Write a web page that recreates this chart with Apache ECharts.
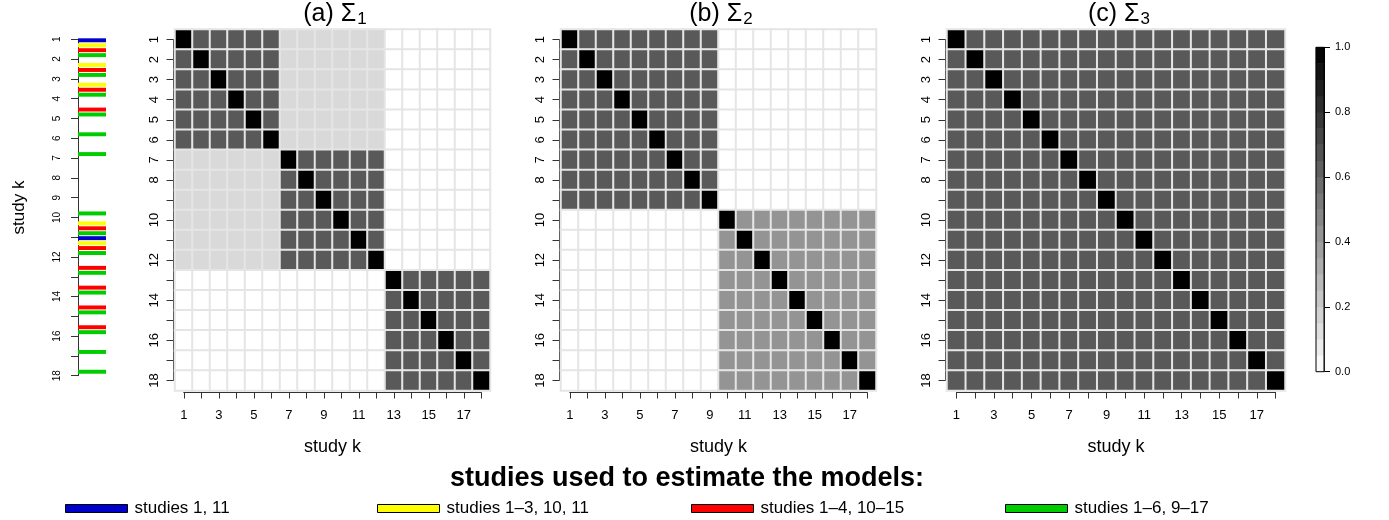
<!DOCTYPE html>
<html><head><meta charset="utf-8">
<script src="https://cdn.jsdelivr.net/npm/echarts@6/dist/echarts.min.js"></script>
<style>html,body{margin:0;padding:0;background:#fff}#c{width:1389px;height:520px}</style>
</head><body><div id="c"></div>
<script>
// ---------- DATA ----------
const studies = ['1','2','3','4','5','6','7','8','9','10','11','12','13','14','15','16','17','18'];
// block membership of each study (panel a, b, c)
const groupsA = [1,1,1,1,1,1,2,2,2,2,2,2,3,3,3,3,3,3];
const groupsB = [1,1,1,1,1,1,1,1,1,2,2,2,2,2,2,2,2,2];
const groupsC = [1,1,1,1,1,1,1,1,1,1,1,1,1,1,1,1,1,1];
// correlation between blocks (row = block i, col = block j), diagonal of matrix = 1
const blockCorA = [[0.65,0.15,0.00],[0.15,0.65,0.00],[0.00,0.00,0.65]];
const blockCorB = [[0.65,0.00],[0.00,0.42]];
const blockCorC = [[0.65]];
const panelTitles = ['(a) Σ', '(b) Σ', '(c) Σ'];
const panelSubs = ['1', '2', '3'];
// studies used to estimate each model
const modelNames = ['studies 1, 11', 'studies 1\u20133, 10, 11', 'studies 1\u20134, 10\u201315', 'studies 1\u20136, 9\u201317'];
const modelColors = ['#0000CD', '#FFFF00', '#FF0000', '#00CD00'];
const modelBlue = [1, 11];
const modelYellow = [1, 2, 3, 10, 11];
const modelRed = [1, 2, 3, 4, 10, 11, 12, 13, 14, 15];
const modelGreen = [1, 2, 3, 4, 5, 6, 9, 10, 11, 12, 13, 14, 15, 16, 17];
const models = [modelBlue, modelYellow, modelRed, modelGreen];
const colorbarSteps = 20;

// ---------- BUILD ----------
function buildMatrix(groups, cor) {
  const out = [];
  for (let i = 0; i < groups.length; i++) {
    for (let j = 0; j < groups.length; j++) {
      const v = i === j ? 1 : cor[groups[i]-1][groups[j]-1];
      out.push([j, i, v]);
    }
  }
  return out;
}
const matrices = [buildMatrix(groupsA, blockCorA), buildMatrix(groupsB, blockCorB), buildMatrix(groupsC, blockCorC)];

const FONT = 'Liberation Sans';
const panels = [
  {left: 175, width: 315, cx: 330},
  {left: 561, width: 315, cx: 716},
  {left: 947, width: 338, cx: 1114}
];
const TOP = 29.5, HEIGHT = 361, CH = HEIGHT / 18;

const grids = [], xAxes = [], yAxes = [], series = [], titles = [];

// strip grid (index 0)
grids.push({left: 78, width: 28, top: 39.3, height: 336.4});
xAxes.push({gridIndex: 0, type: 'value', min: 0, max: 1, show: false});
yAxes.push({gridIndex: 0, type: 'value', min: 1, max: 18, interval: 1, inverse: true,
  axisLine: {show: true, lineStyle: {color: '#333', width: 1}},
  axisTick: {show: true, length: 7, lineStyle: {color: '#333'}},
  splitLine: {show: false},
  axisLabel: {rotate: 90, fontSize: 10, color: '#000', fontFamily: FONT, margin: 16,
    formatter: v => (v <= 10 || v % 2 === 0) ? String(v) : ''},
  name: 'study k', nameLocation: 'middle', nameGap: 50, nameRotate: 90,
  nameTextStyle: {fontSize: 17, color: '#000', fontFamily: FONT}});

panels.forEach((p, k) => {
  const cw = p.width / 18;
  const gCell = grids.length;
  grids.push({left: p.left, width: p.width, top: TOP, height: HEIGHT});
  xAxes.push({gridIndex: gCell, type: 'category', data: studies, show: false});
  yAxes.push({gridIndex: gCell, type: 'category', data: studies, inverse: true, show: false});
  const cellAxis = xAxes.length - 1;
  const gAx = grids.length;
  grids.push({left: p.left + cw / 2, width: p.width - cw, top: TOP + CH / 2, height: HEIGHT - CH});
  xAxes.push({gridIndex: gAx, type: 'value', min: 1, max: 18, interval: 1, position: 'bottom', offset: CH / 2 + 2,
    axisLine: {show: true, lineStyle: {color: '#333'}},
    axisTick: {show: true, length: 6, lineStyle: {color: '#333'}},
    splitLine: {show: false},
    axisLabel: {fontSize: 13, color: '#000', fontFamily: FONT, margin: 16,
      formatter: v => (v % 2 === 1) ? String(v) : ''},
    name: 'study k', nameLocation: 'middle', nameGap: 46,
    nameTextStyle: {fontSize: 18, color: '#000', fontFamily: FONT}});
  yAxes.push({gridIndex: gAx, type: 'value', min: 1, max: 18, interval: 1, inverse: true, position: 'left', offset: cw / 2 + 1.5,
    axisLine: {show: true, lineStyle: {color: '#333'}},
    axisTick: {show: true, length: 7, lineStyle: {color: '#333'}},
    splitLine: {show: false},
    axisLabel: {rotate: 90, fontSize: 13, color: '#000', fontFamily: FONT, margin: 13,
      formatter: v => (v <= 8 || v % 2 === 0) ? String(v) : ''}});
  series.push({type: 'heatmap', xAxisIndex: cellAxis, yAxisIndex: cellAxis, data: matrices[k],
    itemStyle: {borderColor: '#e5e5e5', borderWidth: 2}, emphasis: {disabled: true}, silent: true});
  titles.push({text: panelTitles[k] + '{sub|' + panelSubs[k] + '}', left: p.cx, textAlign: 'center', top: -4,
    textStyle: {fontSize: 25, fontWeight: 'normal', color: '#000', fontFamily: FONT,
      rich: {sub: {fontSize: 17, color: '#000', fontFamily: FONT, padding: [10, 0, 0, 1]}}}});
});

// colorbar grid
const gBar = grids.length;
grids.push({left: 1316, width: 8, top: 47.3, height: 324.4, show: true, borderColor: '#000', borderWidth: 1, backgroundColor: 'transparent', z: 10});
const barCats = [];
const barData = [];
for (let i = 0; i < colorbarSteps; i++) { barCats.push(String(i)); barData.push([0, i, (i + 0.5) / colorbarSteps]); }
xAxes.push({gridIndex: gBar, type: 'category', data: ['c'], show: false});
yAxes.push({gridIndex: gBar, type: 'category', data: barCats, show: false});
const barCatIdx = yAxes.length - 1;
yAxes.push({gridIndex: gBar, type: 'value', min: 0, max: 1, interval: 0.2, position: 'right',
  axisLine: {show: true, lineStyle: {color: '#000'}},
  axisTick: {show: true, length: 6, lineStyle: {color: '#000'}},
  splitLine: {show: false},
  axisLabel: {fontSize: 11, color: '#000', fontFamily: FONT, margin: 11, formatter: v => v.toFixed(1)}});
series.push({type: 'heatmap', xAxisIndex: xAxes.length - 1, yAxisIndex: barCatIdx, data: barData,
  itemStyle: {borderWidth: 0}, emphasis: {disabled: true}, silent: true});

// strip bars
const offsets = [0.05, 0.30, 0.55, 0.80];
models.forEach((m, j) => {
  series.push({type: 'custom', name: modelNames[j], xAxisIndex: 0, yAxisIndex: 0,
    data: m.map(s => [0, s]), encode: {x: 0, y: 1}, itemStyle: {color: modelColors[j]}, silent: true,
    renderItem: function (params, api) {
      const y = api.value(1) + offsets[j];
      const p0 = api.coord([0, y - 0.1]);
      const p1 = api.coord([1, y + 0.1]);
      return {type: 'rect', shape: {x: p0[0], y: Math.min(p0[1], p1[1]), width: p1[0] - p0[0], height: Math.abs(p1[1] - p0[1])},
        style: {fill: modelColors[j]}};
    }});
});

titles.push({text: 'studies used to estimate the models:', left: 682, textAlign: 'center', top: 460,
  textStyle: {fontSize: 27, fontWeight: 'bold', color: '#000', fontFamily: FONT}});

const legendLefts = [60, 372, 686, 1000];
const legends = modelNames.map((n, j) => ({data: [n], left: legendLefts[j], top: 495, orient: 'horizontal',
  selectedMode: false, icon: 'rect', itemWidth: 62, itemHeight: 8, itemGap: 0,
  itemStyle: {borderColor: '#000', borderWidth: 1},
  textStyle: {fontSize: 17, color: '#000', fontFamily: FONT, padding: [0, 0, 0, 2]}}));

const chart = echarts.init(document.getElementById('c'), null, {renderer: 'canvas'});
chart.setOption({
  animation: false,
  textStyle: {fontFamily: FONT},
  title: titles,
  grid: grids,
  xAxis: xAxes,
  yAxis: yAxes,
  visualMap: {show: false, type: 'continuous', min: 0, max: 1, seriesIndex: [0, 1, 2, 3], inRange: {color: ['#ffffff', '#000000']}},
  legend: legends,
  series: series
});
</script></body></html>
